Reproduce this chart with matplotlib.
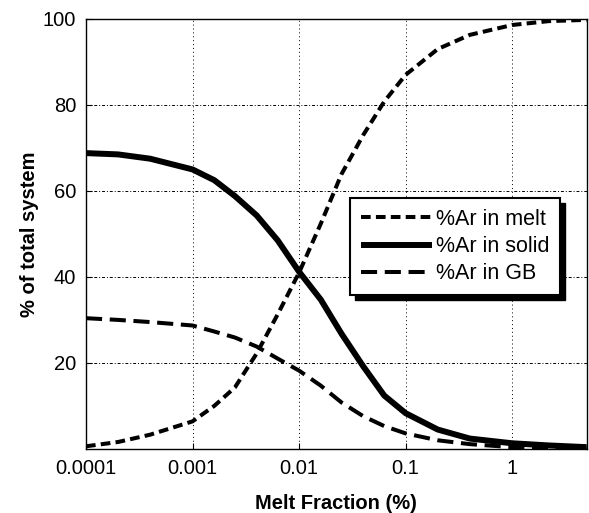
import matplotlib.pyplot as plt
from matplotlib.patches import Rectangle
from matplotlib.transforms import IdentityTransform

plt.rcParams['font.family'] = ['Liberation Sans', 'DejaVu Sans']

# melt fraction (%) and argon partitioning (% of total system)
melt_fraction = [1e-4, 2e-4, 4e-4, 1e-3, 1.6e-3, 2.5e-3, 4e-3, 6.3e-3,
                 0.01, 0.016, 0.025, 0.04, 0.063, 0.1, 0.2, 0.4, 1.0, 2.2, 5.0]
ar_melt = [0.6, 1.6, 3.3, 6.4, 10.0, 14.3, 22.2, 31.3,
           41.0, 52.4, 63.9, 73.0, 80.8, 87.0, 93.0, 96.3, 98.6, 99.5, 99.8]
ar_solid = [68.8, 68.5, 67.5, 65.0, 62.5, 58.8, 54.3, 48.5,
            41.2, 34.7, 26.8, 19.2, 12.4, 8.3, 4.5, 2.4, 1.3, 0.8, 0.4]
ar_gb = [30.4, 30.0, 29.5, 28.7, 27.3, 25.9, 23.8, 21.0,
         18.2, 14.7, 10.8, 7.6, 5.3, 3.6, 2.0, 1.1, 0.4, 0.15, 0.05]

fig = plt.figure(figsize=(5.89, 5.13), dpi=100)
ax = fig.add_axes([0.146, 0.125, 0.85, 0.838])

ax.plot(melt_fraction, ar_melt, color='black', lw=2.9, dashes=(2.4, 1.3),
        label='%Ar in melt')
ax.plot(melt_fraction, ar_solid, color='black', lw=4.3, solid_capstyle='butt',
        solid_joinstyle='round', label='%Ar in solid')
ax.plot(melt_fraction, ar_gb, color='black', lw=2.9, dashes=(4.0, 1.9),
        label='%Ar in GB')

ax.set_xscale('log')
ax.set_xlim(1e-4, 5)
ax.set_ylim(0, 100)
ax.set_xticks([1e-4, 1e-3, 1e-2, 1e-1, 1])
ax.set_xticklabels(['0.0001', '0.001', '0.01', '0.1', '1'])
ax.set_yticks([20, 40, 60, 80, 100])
ax.minorticks_off()
ax.tick_params(direction='in', length=4, labelsize=14.5, pad=7)

ax.xaxis.grid(True, color='black', lw=0.7, dashes=(1, 3))
ax.yaxis.grid(True, color='black', lw=0.7, dashes=(3, 2, 1, 2))
for sp in ax.spines.values():
    sp.set_linewidth(1.0)

ax.set_xlabel('Melt Fraction (%)', fontsize=14.5, fontweight='bold', labelpad=12)
ax.set_ylabel('% of total system', fontsize=14.5, fontweight='bold', labelpad=3)

leg = ax.legend(loc='upper left', bbox_to_anchor=(0.527, 0.584), fontsize=15.5,
                handlelength=3.3, handletextpad=0.2, labelspacing=0.3,
                borderpad=0.5, borderaxespad=0, fancybox=False, framealpha=1,
                edgecolor='black')
leg.get_frame().set_linewidth(1.5)

# solid black drop shadow under the legend box, offset a few pixels
fig.canvas.draw()
bb = leg.get_frame().get_window_extent()
ax.add_patch(Rectangle((bb.x0 + 5, bb.y0 - 5), bb.width, bb.height,
                       transform=IdentityTransform(), color='black',
                       zorder=leg.get_zorder() - 0.1, clip_on=False))

fig.savefig('out.png', dpi=100)
